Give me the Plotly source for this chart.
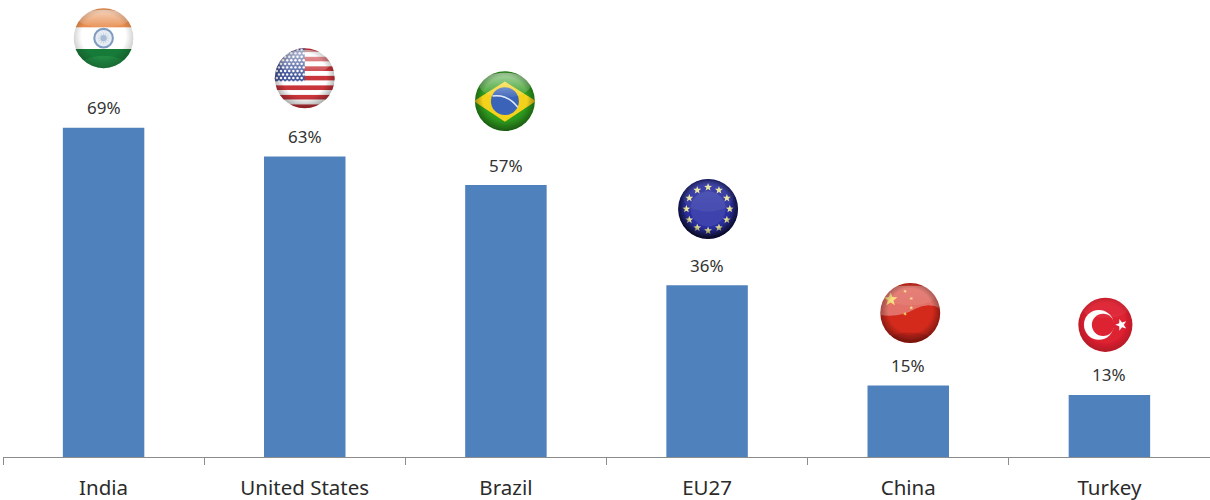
import base64
import math
import plotly.graph_objects as go

categories = ["India", "United States", "Brazil", "EU27", "China", "Turkey"]
values = [69, 63, 57, 36, 15, 13]
value_labels = ["69%", "63%", "57%", "36%", "15%", "13%"]
flag_levels = [87.8, 79.4, 74.6, 52.0, 30.2, 27.7]
flag_x_shift = [0.0, 0.0, -0.005, 0.005, 0.01, -0.02]
flag_sizes = [62, 62, 62, 62, 62, 56]

Y_MAX = 95.8
BAR = "#4f81bd"
W, H = 1210, 500
L, B = 3, 43
PX_X = (W - L) / 6
PX_Y = (H - B) / Y_MAX


def star(cx, cy, r, fill, rot=-90.0):
    pts = []
    for i in range(10):
        rad = r if i % 2 == 0 else r * 0.42
        a = math.radians(rot + i * 36)
        pts.append(f"{cx + rad * math.cos(a):.2f},{cy + rad * math.sin(a):.2f}")
    return f'<polygon points="{" ".join(pts)}" fill="{fill}"/>'


def sphere(body, gloss=0.55, rim=0.38, gloss_ry=30):
    return f'''<svg xmlns="http://www.w3.org/2000/svg" width="240" height="240" viewBox="0 0 120 120">
<defs>
<filter id="soft" x="-5%" y="-5%" width="110%" height="110%"><feGaussianBlur stdDeviation="1.1"/></filter>
<clipPath id="c"><circle cx="60" cy="60" r="58"/></clipPath>
<radialGradient id="rim" cx="50%" cy="46%" r="54%">
<stop offset="0.68" stop-color="#000" stop-opacity="0"/>
<stop offset="1" stop-color="#000" stop-opacity="{rim}"/>
</radialGradient>
<linearGradient id="gl" x1="0" y1="0" x2="0" y2="1">
<stop offset="0" stop-color="#fff" stop-opacity="{gloss}"/>
<stop offset="1" stop-color="#fff" stop-opacity="0.06"/>
</linearGradient>
</defs>
<g filter="url(#soft)"><g clip-path="url(#c)">{body}
<ellipse cx="60" cy="{5 + gloss_ry}" rx="50" ry="{gloss_ry}" fill="url(#gl)"/>
<circle cx="60" cy="60" r="58" fill="url(#rim)"/>
</g></g></svg>'''


def india():
    spokes = "".join(
        f'<line x1="60" y1="60" x2="{60 + 11 * math.cos(math.radians(a)):.1f}" '
        f'y2="{60 + 11 * math.sin(math.radians(a)):.1f}" stroke="#b4c5da" stroke-width="1"/>'
        for a in range(0, 360, 30)
    )
    return sphere(
        '<rect width="120" height="120" fill="#fff"/>'
        '<rect width="120" height="39" fill="#e88e50"/>'
        '<rect y="81" width="120" height="39" fill="#167a38"/>'
        '<ellipse cx="60" cy="118" rx="50" ry="24" fill="#2f9a50" opacity="0.45"/>'
        '<circle cx="60" cy="60" r="18" fill="#e6ecf3" stroke="#7f9cc0" stroke-width="4"/>'
        + spokes + '<circle cx="60" cy="60" r="6" fill="#a8bdd5"/>',
        gloss=0.62, rim=0.22, gloss_ry=17,
    )


def usa():
    stripes = "".join(
        f'<rect y="{i * 120 / 13:.2f}" width="120" height="{120 / 13:.2f}" '
        f'fill="{"#c8343a" if i % 2 == 0 else "#ffffff"}"/>'
        for i in range(13)
    )
    dots = "".join(
        f'<circle cx="{6 + c * 8 + (r % 2) * 4}" cy="{5 + r * 6.8:.1f}" r="2.4" fill="#fff"/>'
        for r in range(10) for c in range(7)
    )
    return sphere(
        stripes + '<rect width="60" height="66" fill="#46599c"/>' + dots,
        gloss=0.6, rim=0.34, gloss_ry=24,
    )


def brazil():
    return sphere(
        '<rect width="120" height="120" fill="#2f9a1e"/>'
        '<polygon points="60,22 120,60 60,100 0,60" fill="#f4d21c"/>'
        '<circle cx="60" cy="60" r="27" fill="#3a63b8"/>'
        '<path d="M36,50 Q65,46 85,72" stroke="#dfe8f6" stroke-width="3" fill="none"/>',
        gloss=0.6, rim=0.42, gloss_ry=24,
    )


def eu():
    stars = "".join(
        star(60 + 42 * math.cos(math.radians(a)), 60 + 42 * math.sin(math.radians(a)), 8, "#e8e59a")
        for a in range(0, 360, 30)
    )
    return sphere(
        '<rect width="120" height="120" fill="#2a2f9e"/>'
        '<circle cx="60" cy="60" r="34" fill="#3d43ac"/>' + stars,
        gloss=0.1, rim=0.85, gloss_ry=30,
    )


def china():
    small = "".join(star(x, y, 4, "#f2c94c", rot=r) for x, y, r in
                    [(50, 18, -60), (62, 32, -30), (62, 50, -90), (50, 62, -60)])
    return sphere(
        '<rect width="120" height="120" fill="#d42a1c"/>'
        + star(22, 34, 14, "#f6c832") + small +
        '<path d="M0,8 H120 V52 Q95,38 70,52 Q40,70 0,64 Z" fill="#ffffff" opacity="0.34"/>'
        '<ellipse cx="60" cy="112" rx="40" ry="14" fill="#8a1510" opacity="0.3"/>',
        gloss=0.1, rim=0.42, gloss_ry=20,
    )


def turkey():
    return sphere(
        '<rect width="120" height="120" fill="#dd2030"/>'
        '<circle cx="46" cy="60" r="32" fill="#fff"/>'
        '<circle cx="55" cy="60" r="24" fill="#dd2030"/>'
        + star(94, 60, 13, "#fff", rot=180),
        gloss=0.04, rim=0.2, gloss_ry=20,
    )


def uri(svg):
    return "data:image/svg+xml;base64," + base64.b64encode(svg.encode()).decode()


flags = [india(), usa(), brazil(), eu(), china(), turkey()]

fig = go.Figure(
    go.Bar(
        x=categories,
        y=values,
        width=0.405,
        marker=dict(color=BAR, line=dict(width=0)),
        hoverinfo="x+y",
    )
)

for i, (cat, val, lab) in enumerate(zip(categories, values, value_labels)):
    fig.add_annotation(
        x=cat, y=val, text=lab, showarrow=False, yanchor="middle", yshift=20,
        font=dict(family="Noto Sans", size=17, color="#333333"),
    )
    fig.add_layout_image(
        source=uri(flags[i]), xref="x", yref="y",
        x=i + flag_x_shift[i], y=flag_levels[i],
        sizex=flag_sizes[i] / PX_X, sizey=flag_sizes[i] / PX_Y,
        xanchor="center", yanchor="middle", sizing="contain", layer="above",
    )

fig.update_layout(
    width=W, height=H,
    autosize=False,
    margin=dict(l=L, r=0, t=0, b=B),
    paper_bgcolor="white", plot_bgcolor="white",
    showlegend=False,
    bargap=0.595,
    xaxis=dict(
        type="category", categoryorder="array", categoryarray=categories,
        range=[-0.5, 5.5],
        tickson="boundaries", ticks="outside", ticklen=7, tickwidth=1, tickcolor="#8c8c8c",
        showline=True, linecolor="#8c8c8c", linewidth=1, showgrid=False, zeroline=False,
        ticklabelstandoff=12,
        tickfont=dict(family="Noto Sans", size=20.5, color="#2b2b2b"),
    ),
    yaxis=dict(range=[0, Y_MAX], visible=False, showgrid=False, zeroline=False),
)

fig.write_html(
    "out.html",
    config=dict(displayModeBar=False),
    post_script="document.body.style.margin='0';document.body.style.overflow='hidden';",
)
